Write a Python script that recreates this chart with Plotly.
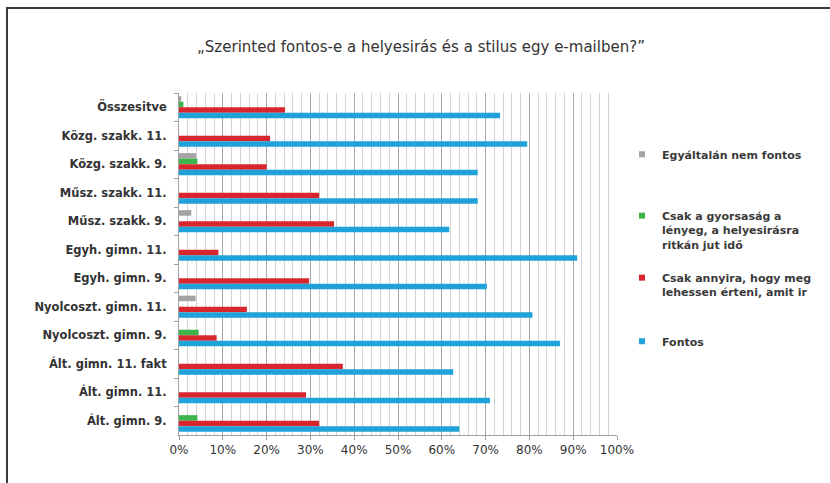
import plotly.graph_objects as go

categories = ["Összesitve", "Közg. szakk. 11.", "Közg. szakk. 9.", "Műsz. szakk. 11.",
              "Műsz. szakk. 9.", "Egyh. gimn. 11.", "Egyh. gimn. 9.", "Nyolcoszt. gimn. 11.",
              "Nyolcoszt. gimn. 9.", "Ált. gimn. 11. fakt", "Ált. gimn. 11.", "Ált. gimn. 9."]
egyaltalan = [0.5, 0, 3.9, 0, 2.8, 0, 0, 3.8, 0, 0, 0, 0]
gyorsasag = [1.0, 0, 4.2, 0, 0, 0, 0, 0, 4.5, 0, 0, 4.2]
annyira = [24.2, 20.8, 20.0, 32.0, 35.4, 9.0, 29.7, 15.5, 8.6, 37.4, 29.0, 32.0]
fontos = [73.3, 79.5, 68.2, 68.2, 61.7, 90.9, 70.3, 80.7, 87.0, 62.6, 71.0, 64.0]

series_names = ["Egyáltalán nem fontos",
                "Csak a gyorsaság a<br>lényeg, a helyesirásra<br>ritkán jut idő",
                "Csak annyira, hogy meg<br>lehessen érteni, amit ir",
                "Fontos"]
series_values = [egyaltalan, gyorsasag, annyira, fontos]
colors = ["#a3a3a3", "#3db54a", "#d9262e", "#1fa2da"]
legend_ids = ["legend", "legend2", "legend3", "legend4"]
legend_y_px = [155, 230, 285, 342]

W, H = 830, 483
L, R, T, B = 179, 617, 93, 435

fig = go.Figure()
for name, vals, col in zip(series_names, series_values, colors):
    fig.add_trace(go.Bar(y=categories, x=vals, orientation="h", marker_color=col,
                         marker_line_width=0, showlegend=False, hoverinfo="x+y"))
for name, col, lid in zip(series_names, colors, legend_ids):
    fig.add_trace(go.Scatter(x=[None], y=[None], mode="markers", name=name,
                             marker=dict(symbol="square", size=6, color=col),
                             legend=lid, showlegend=True))

leg_common = dict(xref="container", yref="container", xanchor="left", yanchor="middle",
                  bgcolor="rgba(0,0,0,0)", valign="top", itemwidth=30,
                  font=dict(family="DejaVu Sans", size=11, color="#3a3a3a", weight="bold"))
layout_legends = {}
for lid, ypx in zip(legend_ids, legend_y_px):
    layout_legends[lid] = dict(x=622 / W, y=1 - ypx / H, **leg_common)

px_w = R - L
px_h = B - T
def xp(px):
    return (px - L) / px_w
def yp(py):
    return (B - py) / px_h

fig.update_layout(
    width=W, height=H,
    margin=dict(l=L, r=W - R, t=T, b=H - B, autoexpand=False),
    paper_bgcolor="white", plot_bgcolor="white",
    barmode="group", bargap=0.22, bargroupgap=0,
    title=dict(text="„Szerinted fontos-e a helyesirás és a stilus egy e-mailben?”",
               x=421 / W, xanchor="center", y=1 - 47 / H, yanchor="middle",
               font=dict(family="DejaVu Sans", size=15, color="#333333")),
    xaxis=dict(range=[0, 100], dtick=10, ticksuffix="%", showgrid=True,
               gridcolor="#a8a8a8", gridwidth=1,
               minor=dict(dtick=2, showgrid=True, gridcolor="#d4d4d4", gridwidth=1),
               showline=True, linecolor="#a0a0a0", ticks="outside", ticklen=4,
               tickcolor="#a0a0a0", zeroline=False,
               tickfont=dict(family="DejaVu Sans", size=12, color="#333333")),
    yaxis=dict(autorange="reversed", showline=True, linecolor="#a0a0a0",
               ticks="outside", tickson="boundaries", ticklen=4, tickcolor="#a0a0a0",
               showgrid=False, ticklabelstandoff=9,
               tickfont=dict(family="DejaVu Sans", size=11.5, color="#333333", weight="bold")),
    shapes=[
        dict(type="line", xref="paper", yref="paper", x0=xp(7), x1=xp(7), y0=yp(8), y1=yp(495),
             line=dict(color="#3a3a3a", width=2)),
        dict(type="line", xref="paper", yref="paper", x0=xp(6), x1=xp(840), y0=yp(8), y1=yp(8),
             line=dict(color="#3a3a3a", width=2)),
    ],
    **layout_legends,
)

fig.write_html("out.html")
